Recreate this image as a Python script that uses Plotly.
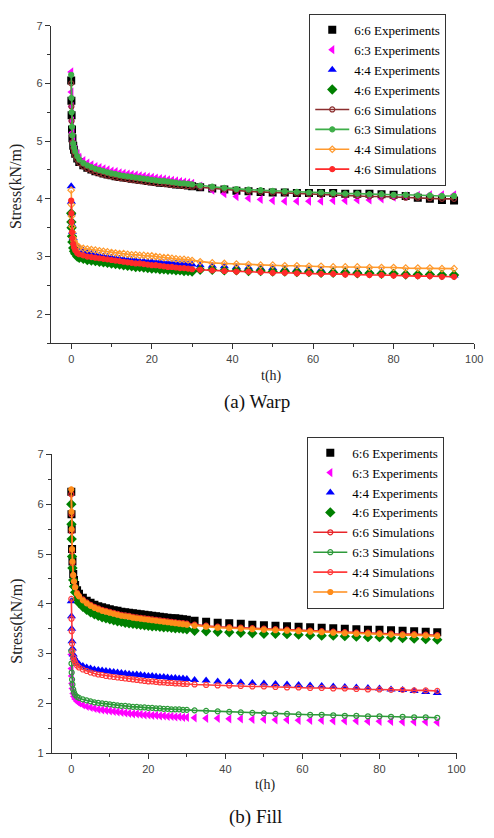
import plotly.graph_objects as go

# ---------------- data ----------------
T = [0, 0.05, 0.1, 0.2, 0.3, 0.5, 0.7, 1, 1.5,
     2, 3, 4, 5, 6, 7, 8, 9, 10, 11, 12, 13, 14, 15, 16, 17, 18, 19, 20,
     21, 22, 23, 24, 25, 26, 27, 28, 29, 30,
     32, 35, 38, 41, 44, 47, 50, 53, 56, 59, 62, 65, 68, 71, 74, 77, 80, 83, 86, 89, 92, 95]

# (a) Warp
W_EXP_66 = [6.05, 5.70, 5.45, 5.20, 5.05, 4.92, 4.85, 4.78, 4.70,
            4.64, 4.58, 4.54, 4.51, 4.48, 4.46, 4.44, 4.42, 4.41, 4.39, 4.38, 4.37, 4.36, 4.35, 4.34, 4.33, 4.32, 4.31, 4.30,
            4.29, 4.28, 4.28, 4.27, 4.26, 4.25, 4.25, 4.24, 4.23, 4.22,
            4.20, 4.18, 4.16, 4.14, 4.13, 4.12, 4.11, 4.11, 4.10, 4.10, 4.10, 4.10, 4.09, 4.09, 4.09, 4.08, 4.07, 4.05, 4.02, 4.00, 3.98, 3.97]
W_EXP_63 = [6.20, 5.85, 5.60, 5.35, 5.15, 5.00, 4.93, 4.86, 4.78,
            4.72, 4.66, 4.62, 4.59, 4.56, 4.54, 4.52, 4.50, 4.48, 4.47, 4.45, 4.44, 4.43, 4.42, 4.41, 4.40, 4.39, 4.38, 4.37,
            4.36, 4.35, 4.34, 4.33, 4.32, 4.31, 4.30, 4.29, 4.28, 4.27,
            4.22, 4.15, 4.09, 4.04, 4.01, 3.99, 3.97, 3.96, 3.96, 3.96, 3.96, 3.97, 3.97, 3.98, 3.98, 4.00, 4.03, 4.05, 4.06, 4.07, 4.07, 4.07]
W_EXP_44 = [4.22, 3.95, 3.75, 3.55, 3.43, 3.32, 3.26, 3.21, 3.17,
            3.15, 3.10, 3.07, 3.05, 3.03, 3.01, 3.00, 2.99, 2.98, 2.97, 2.96, 2.95, 2.94, 2.94, 2.93, 2.92, 2.92, 2.91, 2.91,
            2.90, 2.90, 2.89, 2.89, 2.88, 2.88, 2.87, 2.87, 2.86, 2.86,
            2.85, 2.84, 2.83, 2.82, 2.81, 2.80, 2.80, 2.79, 2.78, 2.78, 2.77, 2.76, 2.76, 2.75, 2.74, 2.73, 2.72, 2.71, 2.70, 2.69, 2.68, 2.67]
W_EXP_46 = [3.75, 3.60, 3.50, 3.35, 3.25, 3.15, 3.09, 3.05, 3.00,
            2.98, 2.96, 2.94, 2.93, 2.92, 2.91, 2.90, 2.89, 2.88, 2.87, 2.86, 2.85, 2.84, 2.83, 2.82, 2.82, 2.81, 2.80, 2.79,
            2.79, 2.78, 2.78, 2.77, 2.77, 2.76, 2.76, 2.75, 2.75, 2.74,
            2.77, 2.77, 2.76, 2.76, 2.75, 2.75, 2.74, 2.74, 2.73, 2.73, 2.72, 2.72, 2.72, 2.71, 2.71, 2.70, 2.70, 2.69, 2.69, 2.69, 2.68, 2.68]
W_SIM_66 = [6.00, 5.60, 5.35, 5.10, 4.98, 4.88, 4.82, 4.75, 4.68,
            4.62, 4.56, 4.52, 4.49, 4.46, 4.44, 4.42, 4.40, 4.39, 4.37, 4.36, 4.35, 4.34, 4.33, 4.32, 4.31, 4.30, 4.29, 4.28,
            4.27, 4.27, 4.26, 4.25, 4.24, 4.24, 4.23, 4.22, 4.22, 4.21,
            4.20, 4.18, 4.16, 4.15, 4.13, 4.12, 4.11, 4.10, 4.09, 4.08, 4.07, 4.07, 4.06, 4.05, 4.04, 4.04, 4.03, 4.02, 4.02, 4.01, 4.00, 4.00]
W_SIM_63 = [6.15, 5.75, 5.50, 5.25, 5.10, 4.96, 4.89, 4.82, 4.74,
            4.68, 4.62, 4.58, 4.55, 4.52, 4.50, 4.48, 4.46, 4.44, 4.43, 4.41, 4.40, 4.39, 4.38, 4.37, 4.36, 4.35, 4.34, 4.33,
            4.32, 4.31, 4.31, 4.30, 4.29, 4.28, 4.27, 4.27, 4.26, 4.25,
            4.23, 4.21, 4.19, 4.17, 4.16, 4.15, 4.14, 4.13, 4.12, 4.11, 4.11, 4.10, 4.09, 4.09, 4.08, 4.08, 4.07, 4.07, 4.06, 4.06, 4.05, 4.05]
W_SIM_44 = [4.15, 3.90, 3.70, 3.52, 3.42, 3.32, 3.27, 3.22, 3.18,
            3.16, 3.14, 3.13, 3.12, 3.11, 3.10, 3.09, 3.08, 3.07, 3.06, 3.05, 3.05, 3.04, 3.03, 3.03, 3.02, 3.02, 3.01, 3.01,
            3.00, 2.99, 2.98, 2.98, 2.97, 2.96, 2.95, 2.95, 2.94, 2.93,
            2.91, 2.89, 2.88, 2.87, 2.86, 2.85, 2.85, 2.84, 2.84, 2.83, 2.83, 2.82, 2.82, 2.82, 2.81, 2.81, 2.81, 2.80, 2.80, 2.80, 2.79, 2.79]
W_SIM_46 = [3.97, 3.75, 3.60, 3.42, 3.32, 3.22, 3.16, 3.11, 3.06,
            3.04, 3.02, 3.00, 2.99, 2.98, 2.97, 2.96, 2.95, 2.94, 2.93, 2.92, 2.91, 2.90, 2.89, 2.88, 2.88, 2.87, 2.86, 2.85,
            2.85, 2.84, 2.83, 2.82, 2.82, 2.81, 2.80, 2.80, 2.79, 2.78,
            2.77, 2.76, 2.75, 2.74, 2.74, 2.73, 2.72, 2.72, 2.71, 2.71, 2.70, 2.70, 2.69, 2.69, 2.68, 2.68, 2.67, 2.67, 2.66, 2.66, 2.65, 2.65]

# (b) Fill
F_EXP_66 = [6.25, 5.80, 5.50, 5.10, 4.85, 4.60, 4.48, 4.38, 4.27,
            4.20, 4.12, 4.06, 4.02, 3.98, 3.95, 3.93, 3.91, 3.89, 3.87, 3.86, 3.84, 3.83, 3.82, 3.81, 3.80, 3.79, 3.78, 3.77,
            3.76, 3.75, 3.74, 3.73, 3.72, 3.71, 3.71, 3.70, 3.69, 3.68,
            3.66, 3.64, 3.62, 3.61, 3.60, 3.58, 3.57, 3.56, 3.55, 3.54, 3.53, 3.52, 3.51, 3.50, 3.49, 3.48, 3.48, 3.47, 3.46, 3.45, 3.44, 3.43]
F_EXP_63 = [2.98, 2.70, 2.55, 2.40, 2.30, 2.20, 2.14, 2.09, 2.04,
            2.01, 1.97, 1.94, 1.92, 1.90, 1.88, 1.87, 1.86, 1.85, 1.84, 1.83, 1.82, 1.81, 1.80, 1.79, 1.79, 1.78, 1.77, 1.77,
            1.76, 1.76, 1.75, 1.75, 1.74, 1.74, 1.73, 1.73, 1.72, 1.72,
            1.71, 1.70, 1.70, 1.69, 1.69, 1.68, 1.68, 1.67, 1.67, 1.66, 1.66, 1.66, 1.65, 1.65, 1.65, 1.64, 1.64, 1.64, 1.63, 1.63, 1.63, 1.62]
F_EXP_44 = [4.05, 3.75, 3.50, 3.25, 3.10, 2.98, 2.92, 2.87, 2.82,
            2.79, 2.75, 2.72, 2.70, 2.68, 2.67, 2.66, 2.65, 2.64, 2.63, 2.62, 2.61, 2.60, 2.59, 2.58, 2.58, 2.57, 2.56, 2.55,
            2.55, 2.54, 2.53, 2.53, 2.52, 2.51, 2.51, 2.50, 2.50, 2.49,
            2.47, 2.46, 2.44, 2.43, 2.42, 2.41, 2.40, 2.39, 2.38, 2.37, 2.36, 2.35, 2.34, 2.33, 2.32, 2.31, 2.30, 2.28, 2.27, 2.25, 2.23, 2.21]
F_EXP_46 = [6.00, 5.60, 5.30, 4.95, 4.72, 4.48, 4.35, 4.23, 4.10,
            4.02, 3.94, 3.88, 3.83, 3.79, 3.76, 3.73, 3.71, 3.69, 3.67, 3.65, 3.64, 3.62, 3.61, 3.60, 3.59, 3.58, 3.57, 3.56,
            3.55, 3.55, 3.54, 3.53, 3.53, 3.52, 3.51, 3.51, 3.50, 3.49,
            3.46, 3.45, 3.44, 3.43, 3.42, 3.41, 3.40, 3.40, 3.39, 3.38, 3.37, 3.36, 3.36, 3.35, 3.34, 3.33, 3.33, 3.32, 3.31, 3.30, 3.29, 3.28]
F_SIM_66 = [6.20, 5.80, 5.45, 5.05, 4.82, 4.57, 4.45, 4.34, 4.22,
            4.16, 4.09, 4.03, 3.98, 3.94, 3.91, 3.88, 3.86, 3.84, 3.82, 3.80, 3.78, 3.77, 3.76, 3.74, 3.73, 3.72, 3.71, 3.70,
            3.69, 3.68, 3.67, 3.66, 3.65, 3.64, 3.63, 3.62, 3.61, 3.60,
            3.58, 3.56, 3.54, 3.53, 3.52, 3.51, 3.50, 3.49, 3.48, 3.47, 3.46, 3.45, 3.44, 3.43, 3.42, 3.42, 3.41, 3.40, 3.39, 3.39, 3.38, 3.37]
F_SIM_63 = [3.05, 2.80, 2.62, 2.48, 2.38, 2.28, 2.22, 2.17, 2.13,
            2.11, 2.08, 2.06, 2.04, 2.02, 2.01, 2.00, 1.99, 1.98, 1.97, 1.96, 1.95, 1.95, 1.94, 1.93, 1.93, 1.92, 1.92, 1.91,
            1.91, 1.90, 1.90, 1.89, 1.89, 1.88, 1.88, 1.88, 1.87, 1.87,
            1.86, 1.85, 1.84, 1.83, 1.82, 1.81, 1.80, 1.79, 1.79, 1.78, 1.77, 1.77, 1.76, 1.75, 1.75, 1.74, 1.74, 1.73, 1.73, 1.72, 1.72, 1.71]
F_SIM_44 = [4.10, 3.70, 3.45, 3.20, 3.05, 2.93, 2.87, 2.82, 2.76,
            2.72, 2.68, 2.65, 2.62, 2.60, 2.58, 2.57, 2.55, 2.54, 2.53, 2.52, 2.51, 2.50, 2.49, 2.48, 2.47, 2.46, 2.45, 2.44,
            2.44, 2.43, 2.42, 2.42, 2.41, 2.41, 2.40, 2.40, 2.39, 2.39,
            2.38, 2.37, 2.36, 2.36, 2.35, 2.34, 2.34, 2.33, 2.32, 2.32, 2.31, 2.31, 2.30, 2.30, 2.29, 2.28, 2.28, 2.27, 2.27, 2.26, 2.26, 2.25]
F_SIM_46 = [6.30, 5.85, 5.50, 5.10, 4.85, 4.58, 4.45, 4.33, 4.20,
            4.15, 4.07, 4.01, 3.96, 3.92, 3.89, 3.86, 3.84, 3.82, 3.80, 3.78, 3.76, 3.75, 3.74, 3.72, 3.71, 3.70, 3.69, 3.68,
            3.67, 3.66, 3.65, 3.64, 3.63, 3.62, 3.61, 3.60, 3.59, 3.58,
            3.56, 3.54, 3.52, 3.51, 3.50, 3.49, 3.48, 3.47, 3.46, 3.45, 3.44, 3.43, 3.42, 3.41, 3.40, 3.40, 3.39, 3.38, 3.37, 3.37, 3.36, 3.35]

EXP_NAMES = ["6:6 Experiments", "6:3 Experiments", "4:4 Experiments", "4:6 Experiments"]
SIM_NAMES = ["6:6 Simulations", "6:3 Simulations", "4:4 Simulations", "4:6 Simulations"]

for arr in [W_EXP_66, W_EXP_63, W_EXP_44, W_EXP_46, W_SIM_66, W_SIM_63, W_SIM_44, W_SIM_46,
            F_EXP_66, F_EXP_63, F_EXP_44, F_EXP_46, F_SIM_66, F_SIM_63, F_SIM_44, F_SIM_46]:
    assert len(arr) == len(T), len(arr)

# ---------------- styles ----------------
EXP_STYLE = [("square", "#000000"), ("triangle-left", "#ff00ff"),
             ("triangle-up", "#0000ff"), ("diamond", "#008000")]
W_SIM_STYLE = [("circle-open", "#8b2e2e"), ("circle", "#3fae49"),
               ("diamond-open", "#ff9a2e"), ("circle", "#ff2a2a")]
F_SIM_STYLE = [("circle-open", "#e8262a"), ("circle-open", "#2e9a3a"),
               ("circle-open", "#ff3b3b"), ("circle", "#ff8c1a")]

fig = go.Figure()

def add_panel(exps, sims, sim_style, xa, ya, leg):
    for name, ys, (sym, col) in zip(EXP_NAMES, exps, EXP_STYLE):
        fig.add_trace(go.Scatter(x=T, y=ys, mode="markers", name=name,
                                 marker=dict(symbol=sym, color=col, size=8),
                                 xaxis=xa, yaxis=ya, legend=leg))
    for name, ys, (sym, col) in zip(SIM_NAMES, sims, sim_style):
        fig.add_trace(go.Scatter(x=T, y=ys, mode="lines+markers", name=name,
                                 line=dict(color=col, width=1.6),
                                 marker=dict(symbol=sym, color=col, size=5,
                                             line=dict(color=col, width=1.2)),
                                 xaxis=xa, yaxis=ya, legend=leg))

add_panel([W_EXP_66, W_EXP_63, W_EXP_44, W_EXP_46],
          [W_SIM_66, W_SIM_63, W_SIM_44, W_SIM_46], W_SIM_STYLE, "x", "y", "legend")
add_panel([F_EXP_66, F_EXP_63, F_EXP_44, F_EXP_46],
          [F_SIM_66, F_SIM_63, F_SIM_44, F_SIM_46], F_SIM_STYLE, "x2", "y2", "legend2")

W, H = 494, 838
tickfont = dict(family="Liberation Sans", size=11, color="#444")
axis_common = dict(showline=True, linecolor="#333", linewidth=1.4, ticks="outside",
                   ticklen=5, tickwidth=1.2, tickcolor="#333", tickfont=tickfont,
                   showgrid=False, zeroline=False, mirror=False)

legfont = dict(family="Liberation Serif", size=13, color="black")
fig.update_layout(
    width=W, height=H, margin=dict(l=0, r=0, t=0, b=0),
    paper_bgcolor="white", plot_bgcolor="white",
    xaxis=dict(domain=[52 / W, 483 / W], anchor="y", range=[-5, 100], tick0=0, dtick=20,
               minor=dict(dtick=10, ticklen=3, tickcolor="#333", ticks="outside"), **axis_common),
    yaxis=dict(domain=[1 - 342 / H, 1 - 20 / H], anchor="x", range=[1.5, 7], tick0=0, dtick=1,
               minor=dict(dtick=0.5, ticklen=3, tickcolor="#333", ticks="outside"), **axis_common),
    xaxis2=dict(domain=[53 / W, 465 / W], anchor="y2", range=[-5, 100], tick0=0, dtick=20,
                minor=dict(dtick=10, ticklen=3, tickcolor="#333", ticks="outside"), **axis_common),
    yaxis2=dict(domain=[1 - 758 / H, 1 - 455 / H], anchor="x2", range=[1, 7], tick0=0, dtick=1,
                minor=dict(dtick=0.5, ticklen=3, tickcolor="#333", ticks="outside"), **axis_common),
    legend=dict(x=315 / W, y=1 - 8 / H, xanchor="left", yanchor="top", itemwidth=34,
                bordercolor="#333", borderwidth=1, bgcolor="white", tracegroupgap=0,
                font=legfont),
    legend2=dict(x=313 / W, y=1 - 437 / H, xanchor="left", yanchor="top", itemwidth=34,
                 bordercolor="#333", borderwidth=1, bgcolor="white", tracegroupgap=0,
                 font=legfont),
)

serif = "Liberation Serif"
ann = [
    dict(text="Stress(kN/m)", x=17 / W, y=1 - 183 / H, textangle=-90, font=dict(family=serif, size=16, color="#222")),
    dict(text="t(h)", x=277 / W, y=1 - 375 / H, font=dict(family=serif, size=14, color="#222")),
    dict(text="(a) Warp", x=262 / W, y=1 - 402 / H, font=dict(family=serif, size=19, color="#111")),
    dict(text="Stress(kN/m)", x=17 / W, y=1 - 624 / H, textangle=-90, font=dict(family=serif, size=16, color="#222")),
    dict(text="t(h)", x=270 / W, y=1 - 790 / H, font=dict(family=serif, size=14, color="#222")),
    dict(text="(b) Fill", x=260 / W, y=1 - 823 / H, font=dict(family=serif, size=19, color="#111")),
]
for a in ann:
    fig.add_annotation(xref="paper", yref="paper", showarrow=False, xanchor="center", yanchor="middle", **a)

fig.write_html("out.html")
